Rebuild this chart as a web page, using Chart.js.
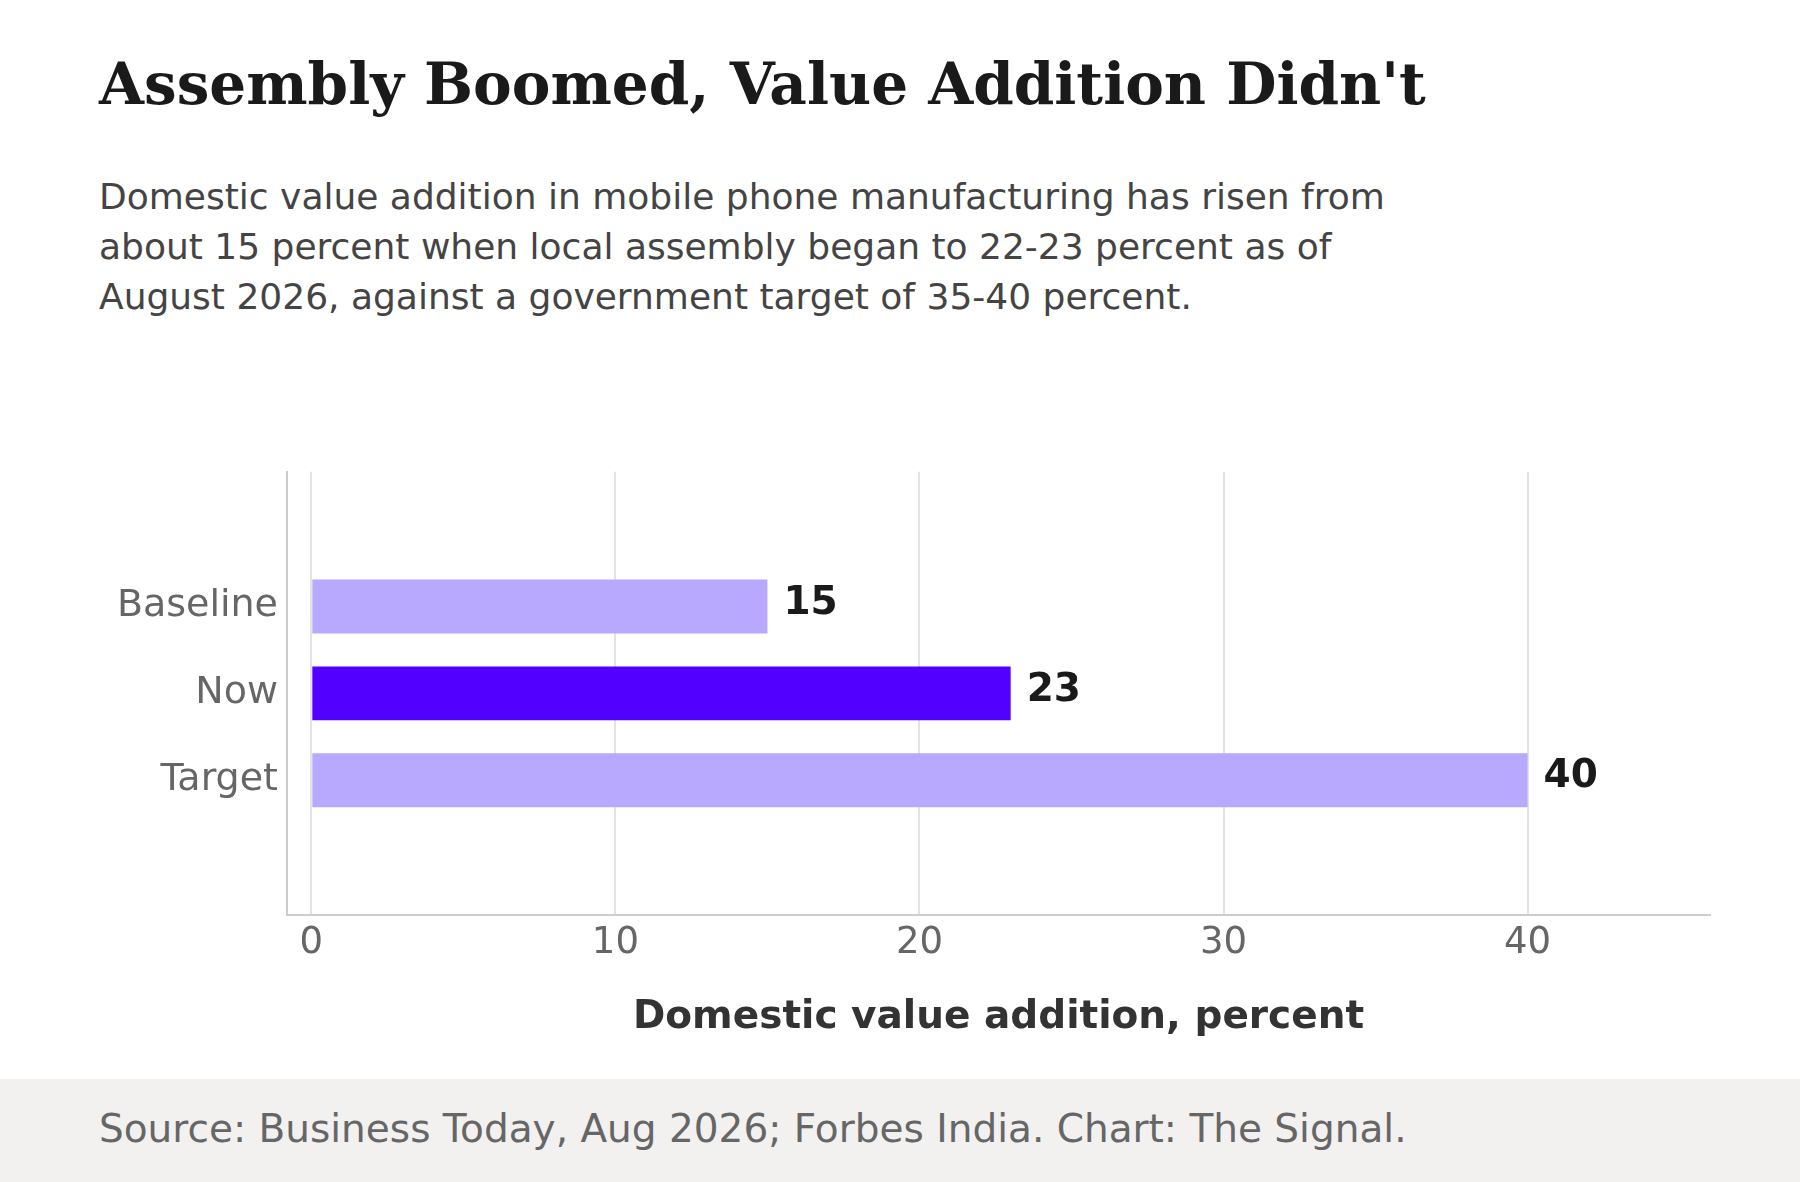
<!DOCTYPE html>
<html>
<head>
<meta charset="utf-8">
<script src="https://cdn.jsdelivr.net/npm/chart.js@4"></script>
<style>
  html, body { margin: 0; padding: 0; background: #fff; width: 1800px; height: 1182px; overflow: hidden; }
  #title { position: absolute; left: 99px; top: 50px; font: bold 58px "DejaVu Serif", serif; color: #1a1a1a; margin: 0; }
  #sub { position: absolute; left: 99px; top: 172px; width: 1500px; font: 36px/50px "DejaVu Sans", sans-serif; color: #444; }
  #wrap { position: absolute; left: 0; top: 440px; width: 1800px; height: 639px; }
  #foot { position: absolute; left: 0; top: 1079px; width: 1800px; height: 103px; background: #f2f1f0; }
  #foot span { position: absolute; left: 99px; top: 27px; font: 39px "DejaVu Sans", sans-serif; color: #666; }
</style>
</head>
<body>
<h1 id="title">Assembly Boomed, Value Addition Didn't</h1>
<div id="sub">Domestic value addition in mobile phone manufacturing has risen from<br>about 15 percent when local assembly began to 22-23 percent as of<br>August 2026, against a government target of 35-40 percent.</div>
<div id="wrap"><canvas id="c"></canvas></div>
<div id="foot"><span>Source: Business Today, Aug 2026; Forbes India. Chart: The Signal.</span></div>
<script>
const categories = ["Baseline", "Now", "Target"];
const values = [15, 23, 40];
const barColors = ["#b8a9ff", "#5200ff", "#b8a9ff"];
const xTicks = [0, 10, 20, 30, 40];

const labelPlugin = {
  id: "barLabels",
  afterDatasetsDraw(chart) {
    const ctx = chart.ctx;
    ctx.save();
    ctx.font = "bold 39px 'DejaVu Sans'";
    ctx.fillStyle = "#1a1a1a";
    ctx.textBaseline = "middle";
    chart.getDatasetMeta(0).data.forEach((bar, i) => {
      ctx.fillText(String(values[i]), bar.x + 16, bar.y - 3);
    });
    ctx.restore();
  },
};

new Chart(document.getElementById("c"), {
  type: "bar",
  data: {
    datasets: [{
      data: values.map((v, i) => ({ x: v, y: i })),
      backgroundColor: barColors,
      categoryPercentage: 1,
      barPercentage: 0.62,
    }],
  },
  options: {
    indexAxis: "y",
    responsive: true,
    maintainAspectRatio: false,
    animation: false,
    layout: { padding: { top: 6, right: 90, bottom: 0, left: 0 } },
    plugins: { legend: { display: false }, tooltip: { enabled: false } },
    scales: {
      x: {
        min: -0.8,
        max: 46,
        afterBuildTicks: (s) => { s.ticks = xTicks.map((v) => ({ value: v })); },
        afterFit: (s) => { s.height = 164; },
        grid: { color: "#e3e3e3", lineWidth: 2, drawTicks: false },
        border: { color: "#cccccc", width: 2 },
        ticks: { color: "#666", font: { family: "DejaVu Sans", size: 37 }, padding: 6 },
        title: {
          display: true,
          text: "Domestic value addition, percent",
          color: "#333",
          font: { family: "DejaVu Sans", size: 39, weight: "bold" },
          padding: { top: 0, bottom: 38 },
        },
      },
      y: {
        type: "linear",
        reverse: true,
        min: -0.7,
        max: 2.7,
        afterBuildTicks: (s) => { s.ticks = categories.map((c, i) => ({ value: i })); },
        afterFit: (s) => { s.width = 287; },
        grid: { display: false, drawTicks: false },
        border: { color: "#cccccc", width: 2 },
        ticks: {
          color: "#666",
          font: { family: "DejaVu Sans", size: 38 },
          padding: 9,
          callback: (v) => categories[v],
        },
      },
    },
  },
  plugins: [labelPlugin],
});
</script>
</body>
</html>
